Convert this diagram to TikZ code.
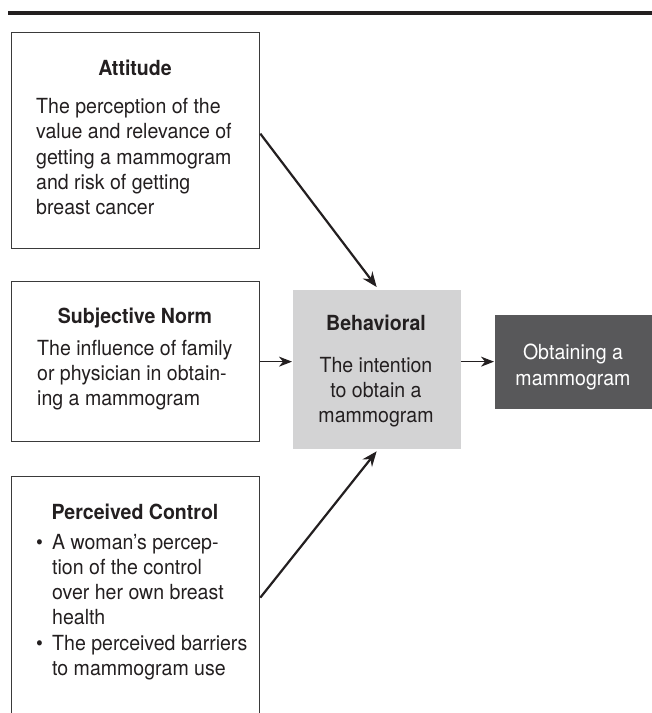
\documentclass[tikz,border=0pt]{standalone}
\usepackage{fontspec}
\setmainfont{TeX Gyre Heros}[FakeStretch=0.94]
\usetikzlibrary{arrows.meta}
\definecolor{ink}{HTML}{231F20}
\definecolor{edgec}{HTML}{3A3A3A}
\definecolor{behfill}{HTML}{D3D3D4}
\definecolor{outfill}{HTML}{58585A}
\begin{document}
\begin{tikzpicture}[x=1pt,y=-1pt,
  box/.style={draw=edgec, line width=1.3pt, fill=white, inner sep=0pt, anchor=north west},
  txt/.style={inner sep=0pt, text=ink, font=\fontsize{20.8}{25.2}\selectfont, align=left},
  ctxt/.style={inner sep=0pt, text=ink, font=\fontsize{20.8}{25.2}\selectfont, align=center},
  ttl/.style={inner sep=0pt, text=ink, font=\fontsize{20.8}{25.2}\selectfont\bfseries},
  bigarrow/.style={draw=ink, line width=2.2pt, -{Stealth[length=15pt, width=12pt, inset=5pt]}},
  smallarrow/.style={draw=ink, line width=1.2pt, -{Stealth[length=13pt, width=10pt, inset=4pt]}}]
\useasboundingbox (0,0) rectangle (652,713);
\clip (0,0) rectangle (652,713);
% top rule
\draw[line width=3.5pt, draw=ink] (8,13) -- (652,13);
% boxes
\node[box, minimum width=248pt, minimum height=216pt] (att) at (11,32) {};
\node[box, minimum width=248pt, minimum height=160pt] (sub) at (11,281) {};
\node[box, minimum width=248pt, minimum height=242pt] (pc) at (11,476) {};
\node[box, draw=none, fill=behfill, minimum width=168pt, minimum height=159pt] (beh) at (292,289) {};
\node[box, draw=none, fill=outfill, minimum width=160pt, minimum height=94pt] (obt) at (494,314) {};
% Attitude (multi-line nodes are anchored at the baseline of their last line)
\node[ttl, anchor=base] (attT) at (135,75) {Attitude};
\node[txt, anchor=base west] (attB) at (36,214.5) {The perception of the\\value and relevance of\\getting a mammogram\\and risk of getting\\breast cancer};
% Subjective norm
\node[ttl, anchor=base] (subT) at (135,323) {Subjective Norm};
\node[txt, anchor=base west] (subB) at (37,405.5) {The influence of family\\or physician in obtain-\\ing a mammogram};
% Perceived control
\node[ttl, anchor=base] (pcT) at (135,519) {Perceived Control};
\node[txt, anchor=base west] (b1) at (36,549) {\textbullet};
\node[txt, anchor=base west] (pcB1) at (52,624.6) {A woman’s percep-\\tion of the control\\over her own breast\\health};
\node[txt, anchor=base west] (b2) at (36,650) {\textbullet};
\node[txt, anchor=base west] (pcB2) at (52,675.2) {The perceived barriers\\to mammogram use};
% Behavioral
\node[ttl, anchor=base] (behT) at (376,330) {Behavioral};
\node[ctxt, anchor=base] (behB) at (376,422.4) {The intention\\to obtain a\\mammogram};
% Outcome
\node[ctxt, anchor=base, text=white, font=\fontsize{20.8}{26}\selectfont] (obtB) at (573,385) {Obtaining a\\mammogram};
% connectors
\draw[bigarrow] ([yshift=7pt]att.east) -- ([yshift=2pt]beh.north);
\draw[smallarrow] (sub.east) -- (sub.east -| beh.west);
\draw[bigarrow] (pc.east) -- ([yshift=-2pt]beh.south);
\draw[smallarrow] (obt.west -| beh.east) -- (obt.west);
\end{tikzpicture}
\end{document}
